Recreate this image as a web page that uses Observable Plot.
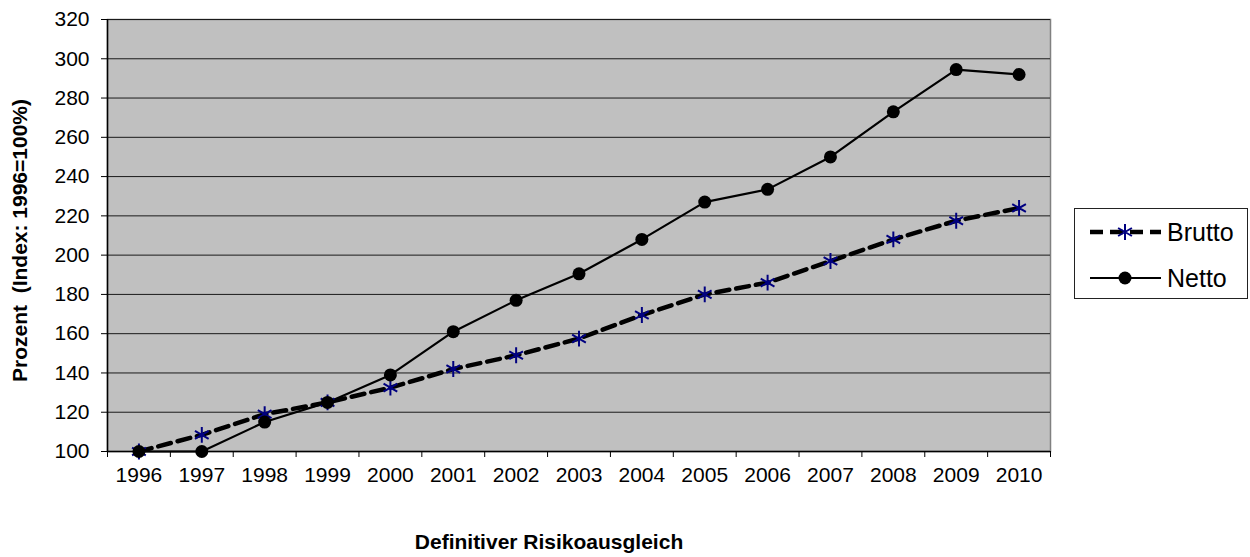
<!DOCTYPE html>
<html>
<head>
<meta charset="utf-8">
<script src="https://cdn.jsdelivr.net/npm/d3@7"></script>
<script src="https://cdn.jsdelivr.net/npm/@observablehq/plot@0.6"></script>
<style>
  html, body { margin: 0; padding: 0; background: #fff; }
  #wrap { position: relative; width: 1250px; height: 557px; font-family: "Liberation Sans", Arial, sans-serif; }
  #legend { position: absolute; left: 1074px; top: 208px; width: 174px; height: 91px; border: 1px solid #222; background: #fff; box-sizing: border-box; }
</style>
</head>
<body>
<div id="wrap"><div id="chart"></div><div id="legend"></div></div>
<script>
const years = [1996, 1997, 1998, 1999, 2000, 2001, 2002, 2003, 2004, 2005, 2006, 2007, 2008, 2009, 2010];
const brutto = [100, 108.5, 119, 125, 132.5, 142, 149, 157.5, 169.5, 180, 186, 197, 208, 217.5, 224];
const netto = [100, 100, 115, 125, 139, 161, 177, 190.5, 208, 227, 233.5, 250, 273, 294.5, 292];
const yTicks = [100, 120, 140, 160, 180, 200, 220, 240, 260, 280, 300, 320];
const seriesNames = ["Brutto", "Netto"];
const xTitle = "Definitiver Risikoausgleich";
const yTitle = "Prozent  (Index: 1996=100%)";

const bruttoData = years.map((y, i) => ({year: y, value: brutto[i]}));
const nettoData = years.map((y, i) => ({year: y, value: netto[i]}));
const edges = years.map(y => y - 0.5).concat([years[years.length - 1] + 0.5]);

const chart = Plot.plot({
  width: 1250,
  height: 557,
  marginLeft: 107,
  marginRight: 200,
  marginTop: 19,
  marginBottom: 106,
  style: {fontFamily: '"Liberation Sans", Arial, sans-serif', fontSize: "21px", color: "#000", background: "transparent"},
  x: {type: "linear", domain: [years[0] - 0.5, years[years.length - 1] + 0.5]},
  y: {domain: [100, 320]},
  marks: [
    Plot.frame({fill: "#c0c0c0", stroke: "#808080", strokeWidth: 1.5}),
    Plot.gridY(yTicks, {stroke: "#1a1a1a", strokeOpacity: 1, strokeWidth: 1}),
    Plot.ruleX([years[0] - 0.5], {stroke: "#000", strokeWidth: 1.5}),
    Plot.ruleY([100], {stroke: "#000", strokeWidth: 1.5}),
    Plot.line(bruttoData, {x: "year", y: "value", stroke: "#000", strokeWidth: 4.5, strokeDasharray: "13,7"}),
    Plot.line(nettoData, {x: "year", y: "value", stroke: "#000", strokeWidth: 2.2}),
    Plot.dot(bruttoData, {x: "year", y: "value", symbol: "asterisk", r: 7.5, stroke: "#000080", strokeWidth: 2}),
    Plot.dot(nettoData, {x: "year", y: "value", r: 6.5, fill: "#000", stroke: "none"}),
    Plot.axisY(yTicks, {tickSize: 6, tickPadding: 12, fontSize: 21, label: null, stroke: "#000"}),
    Plot.axisX(edges, {tickSize: 6, tickFormat: () => "", label: null, stroke: "#000"}),
    Plot.axisX(years, {tickSize: 0, tickPadding: 16, tickFormat: d => String(d), fontSize: 21, label: null}),
    Plot.text([xTitle], {frameAnchor: "bottom", dx: -30, dy: 97, fontWeight: "bold", fontSize: 21, fill: "#000"}),
    Plot.text([yTitle], {frameAnchor: "left", textAnchor: "middle", rotate: -90, dx: -87, dy: 5, fontWeight: "bold", fontSize: 21, fill: "#000"})
  ]
});
document.getElementById("chart").appendChild(chart);

// Legend
const lg = d3.select("#legend").append("svg").attr("width", 172).attr("height", 89)
  .style("font-family", '"Liberation Sans", Arial, sans-serif');
const rows = [
  {name: seriesNames[0], y: 23, dash: "13,7", w: 4.5, sym: "asterisk"},
  {name: seriesNames[1], y: 69, dash: null, w: 2.2, sym: "circle"}
];
rows.forEach(r => {
  lg.append("line").attr("x1", 15).attr("x2", 86).attr("y1", r.y).attr("y2", r.y)
    .attr("stroke", "#000").attr("stroke-width", r.w).attr("stroke-dasharray", r.dash);
  if (r.sym === "asterisk") {
    lg.append("path").attr("d", d3.symbol(d3.symbolAsterisk, 180)()).attr("transform", `translate(50,${r.y})`)
      .attr("stroke", "#000080").attr("stroke-width", 2).attr("fill", "none");
  } else {
    lg.append("circle").attr("cx", 50).attr("cy", r.y).attr("r", 6.5).attr("fill", "#000");
  }
  lg.append("text").attr("x", 92).attr("y", r.y).attr("dy", "0.35em").attr("font-size", 25).attr("fill", "#000").text(r.name);
});
</script>
</body>
</html>
